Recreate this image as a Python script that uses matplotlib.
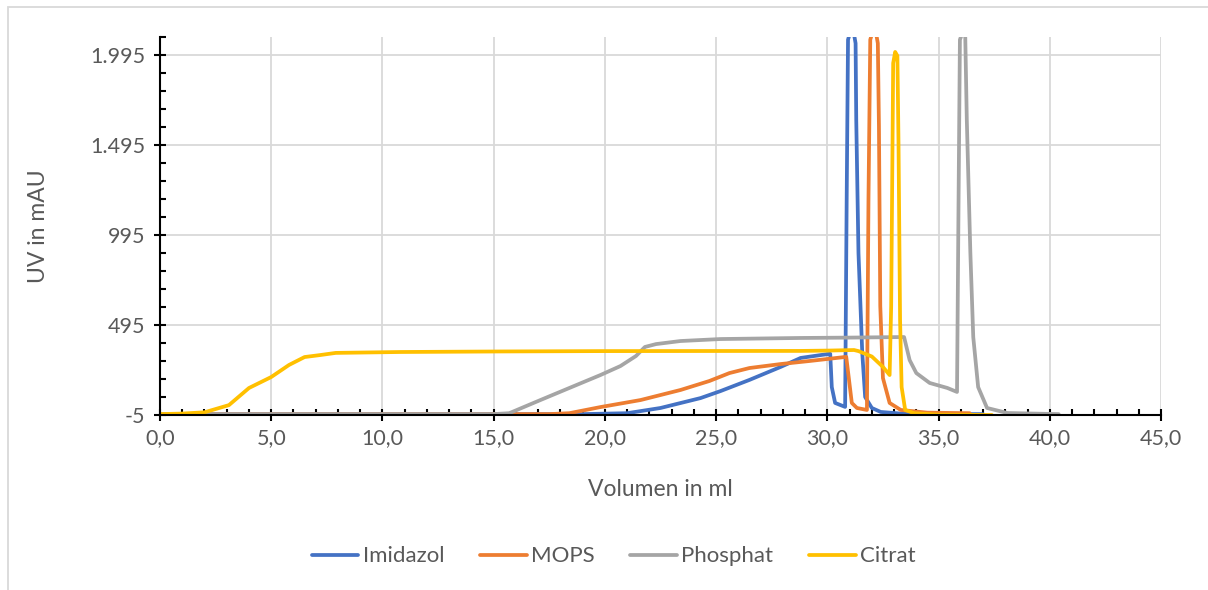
import numpy as np
import matplotlib.pyplot as plt
from matplotlib.ticker import MultipleLocator, FixedLocator, FuncFormatter
from matplotlib.patches import Rectangle

plt.rcParams['font.family'] = ['Lato', 'DejaVu Sans']

# Imidazol
imid_x = [0, 10, 19.0, 21.0, 22.5, 24.3, 25.2, 26.5, 27.9, 28.8, 29.7, 30.13, 30.2, 30.35, 30.8,
          30.87, 30.93, 31.0, 31.2, 31.27, 31.3, 31.4, 31.57, 31.7, 32.0, 32.4, 33.3, 35.0, 37.0]
imid_y = [0, 0, 0, 5, 34, 89, 128, 190, 262, 312, 328, 335, 150, 62, 40,
          1200, 2080, 2110, 2110, 2060, 1634, 895, 340, 95, 34, 12, 3, 0, 0]

# MOPS
mops_x = [0, 10, 17.5, 18.4, 19.8, 21.6, 23.4, 24.7, 25.6, 26.5, 27.9, 29.2, 30.85, 31.1, 31.33, 31.78,
          31.85, 31.93, 32.0, 32.2, 32.27, 32.32, 32.38, 32.5, 32.8, 33.3, 34.5, 36.4]
mops_y = [0, 0, 0, 5, 39, 78, 134, 184, 228, 256, 278, 295, 318, 62, 34, 23,
          1200, 2080, 2110, 2110, 2060, 1600, 600, 200, 62, 23, 8, 5]

# Phosphat
phos_x = [0, 10, 15.0, 15.7, 17.1, 18.4, 19.8, 20.7, 21.4, 21.8, 22.3, 23.4, 25.2, 28.8, 31.0, 33.3,
          33.45, 33.7, 34.0, 34.6, 35.4, 35.83, 35.9, 35.96, 36.05, 36.2, 36.27, 36.43, 36.56,
          36.78, 37.18, 38.1, 40.4]
phos_y = [0, 0, 0, 5, 78, 145, 217, 267, 323, 373, 389, 406, 417, 423, 425, 428,
          428, 300, 228, 173, 145, 123, 1200, 2080, 2110, 2100, 1634, 895, 428,
          150, 34, 6, 0]

# Citrat
citr_x = [0, 1.0, 2.0, 3.1, 4.0, 5.0, 5.8, 6.5, 7.2, 7.9, 10.8, 15.3, 19.8, 28.8, 30.1, 31.2, 31.4,
          32.0, 32.5, 32.8, 32.87, 32.96, 33.05, 33.15, 33.2, 33.27, 33.34, 33.5, 33.9, 35.0, 37.4]
citr_y = [0, 3, 10, 50, 145, 206, 273, 317, 328, 340, 345, 348, 350, 351, 353, 356, 350,
          320, 262, 217, 600, 1950, 2012, 1990, 1500, 523, 150, 23, 5, -3, -5]

series = [
    ("Imidazol", imid_x, imid_y, "#4472C4"),
    ("MOPS", mops_x, mops_y, "#ED7D31"),
    ("Phosphat", phos_x, phos_y, "#A5A5A5"),
    ("Citrat", citr_x, citr_y, "#FFC000"),
]

txt = "#595959"
fig = plt.figure(figsize=(12.08, 5.9), dpi=100)
ax = fig.add_axes([160 / 1208, 1 - 415 / 590, (1161 - 160) / 1208, (415 - 37) / 590])

for name, xs, ys, col in series:
    ax.plot(xs, ys, color=col, lw=2.7, label=name, solid_joinstyle='round', solid_capstyle='round')

ax.set_xlim(0, 45)
ax.set_ylim(-5, 2095)
ax.xaxis.set_major_locator(MultipleLocator(5))
ax.xaxis.set_minor_locator(MultipleLocator(1))
ax.yaxis.set_major_locator(FixedLocator([-5, 495, 995, 1495, 1995]))
ax.yaxis.set_minor_locator(FixedLocator(np.arange(-5, 2096, 100)))
ax.xaxis.set_major_formatter(FuncFormatter(lambda v, p: f"{v:.1f}".replace(".", ",")))
ax.yaxis.set_major_formatter(FuncFormatter(lambda v, p: f"{int(v):,}".replace(",", ".")))

for s in ["top", "right"]:
    ax.spines[s].set_visible(False)
for s in ["left", "bottom"]:
    ax.spines[s].set_color("black")
    ax.spines[s].set_linewidth(1.5)

ax.grid(True, which="major", color="#D9D9D9", lw=1.3)
ax.set_axisbelow(True)
ax.tick_params(which="major", direction="inout", length=9, width=1.5, color="black",
               labelsize=15.5, labelcolor=txt)
ax.tick_params(which="minor", direction="in", length=4, width=1.5, color="black")
ax.tick_params(axis="x", pad=5)
ax.tick_params(axis="y", pad=6)

ax.set_xlabel("Volumen in ml", fontsize=16.5, color=txt, labelpad=22)
ax.set_ylabel("UV in mAU", fontsize=16.5, color=txt, labelpad=30)

fig.legend(loc="center", bbox_to_anchor=(0.508, 0.057), ncol=4, frameon=False,
           fontsize=16, labelcolor=txt, handlelength=2.1, handletextpad=0.2, columnspacing=1.6)

fig.patches.append(Rectangle((8 / 1208, -0.05), 1.2, 1 - 7 / 590 + 0.05, transform=fig.transFigure,
                             fill=False, edgecolor="#D9D9D9", lw=1.3))

fig.savefig("out.png", dpi=100)
